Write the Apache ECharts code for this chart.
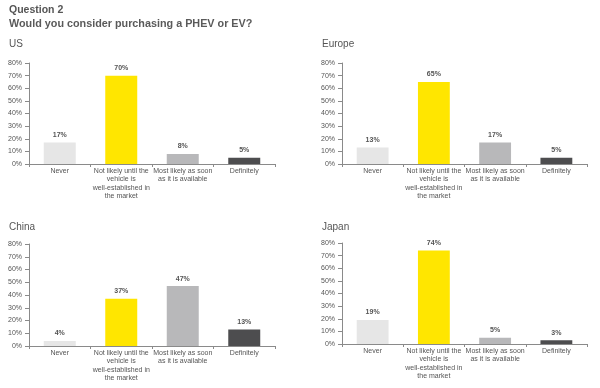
<!DOCTYPE html>
<html><head><meta charset="utf-8">
<script src="https://cdn.jsdelivr.net/npm/echarts@6/dist/echarts.min.js"></script>
<style>html,body{margin:0;padding:0;background:#fff}#c{width:600px;height:388px}</style>
</head><body><div id="c"></div>
<script>
const categories = ['Never', 'Not likely until the\nvehicle is\nwell-established in\nthe market', 'Most likely as soon\nas it is available', 'Definitely'];
const regions = ['US', 'Europe', 'China', 'Japan'];
const usValues = [17, 70, 8, 5];
const europeValues = [13, 65, 17, 5];
const chinaValues = [4, 37, 47, 13];
const japanValues = [19, 74, 5, 3];
const yTicks = [0, 10, 20, 30, 40, 50, 60, 70, 80];
const barColors = ['#e6e6e6', '#ffe600', '#b8b8ba', '#4d4d4f'];

const allValues = [usValues, europeValues, chinaValues, japanValues];
const grids = [
  {left: 29, top: 63, width: 246, height: 101},
  {left: 342, top: 63, width: 245, height: 101},
  {left: 29, top: 244, width: 246, height: 102},
  {left: 342, top: 243, width: 245, height: 101}
];
const titlePos = [{left: 9, top: 39}, {left: 322, top: 39}, {left: 9, top: 222}, {left: 322, top: 222}];
const narrow = "'Liberation Sans Narrow', 'Liberation Sans', Arial, sans-serif";
const axisColor = '#8a8a8a';

const option = {
  animation: false,
  backgroundColor: '#fff',
  title: [
    {text: 'Question 2', left: 9, top: 5, padding: 0, textStyle: {fontFamily: 'Liberation Sans', fontSize: 10.5, fontWeight: 'bold', color: '#555'}},
    {text: 'Would you consider purchasing a PHEV or EV?', left: 9, top: 19, padding: 0, textStyle: {fontFamily: 'Liberation Sans', fontSize: 10.8, fontWeight: 'bold', color: '#5a5a5a'}}
  ].concat(regions.map((r, i) => ({text: r, left: titlePos[i].left, top: titlePos[i].top, padding: 0, textStyle: {fontFamily: 'Liberation Sans', fontSize: 10, fontWeight: 'normal', color: '#555'}}))),
  grid: grids,
  xAxis: grids.map((g, i) => ({
    type: 'category', gridIndex: i, data: categories,
    axisLine: {lineStyle: {color: axisColor, width: 1}},
    axisTick: {show: true, length: 3, lineStyle: {color: axisColor}},
    axisLabel: {interval: 0, fontSize: 7, lineHeight: 8.3, margin: 3, color: '#555', fontFamily: narrow}
  })),
  yAxis: grids.map((g, i) => ({
    type: 'value', gridIndex: i, min: yTicks[0], max: yTicks[yTicks.length - 1], interval: yTicks[1] - yTicks[0],
    splitLine: {show: false},
    axisLine: {show: true, lineStyle: {color: axisColor, width: 1}},
    axisTick: {show: true, length: 4, lineStyle: {color: axisColor}},
    axisLabel: {formatter: '{value}%', fontSize: 7, margin: 7, color: '#555', fontFamily: narrow}
  })),
  series: allValues.map((vals, i) => ({
    type: 'bar', xAxisIndex: i, yAxisIndex: i, barWidth: '52%',
    data: vals.map((v, j) => ({value: v, itemStyle: {color: barColors[j]}})),
    label: {show: true, position: 'top', distance: 4, formatter: '{c}%', fontSize: 7, fontWeight: 'bold', color: '#555', fontFamily: narrow}
  }))
};
echarts.init(document.getElementById('c'), null, {renderer: 'canvas'}).setOption(option);
</script>
</body></html>
